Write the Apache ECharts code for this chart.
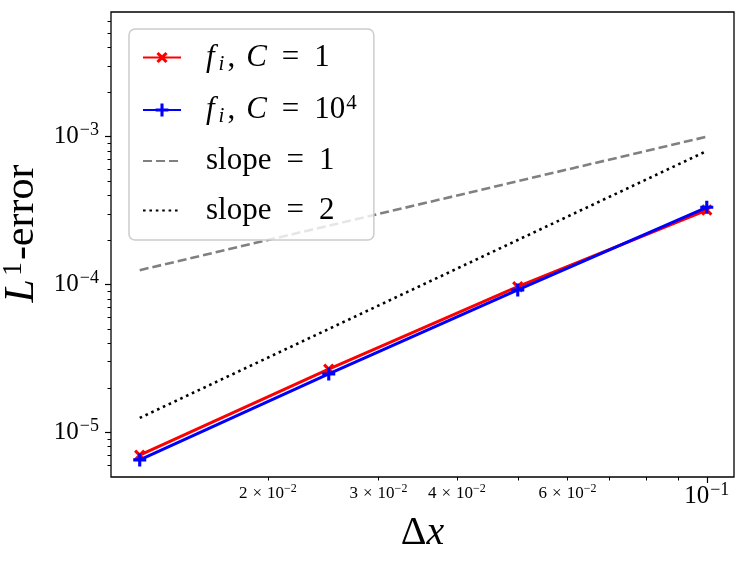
<!DOCTYPE html>
<html>
<head>
<meta charset="utf-8">
<script src="https://cdn.jsdelivr.net/npm/echarts@6/dist/echarts.min.js"></script>
<style>html,body{margin:0;padding:0;background:#fff}#c{width:748px;height:563px}</style>
</head>
<body>
<div id="c"></div>
<script>
// ---- data ----
const dx = [0.0125, 0.025, 0.05, 0.1];
const errC1 = [7.0e-6, 2.67e-5, 9.66e-5, 3.19e-4];
const errC1e4 = [6.5e-6, 2.48e-5, 9.18e-5, 3.33e-4];
const slope1 = [1.25e-4, 2.5e-4, 5e-4, 1e-3];
const slope2 = [1.25e-5, 5e-5, 2e-4, 8e-4];
const seriesNames = ['fC1', 'fC1e4', 'slope1', 'slope2'];
const xMajorTicks = [0.1];
const xMinorTicks = [0.02, 0.03, 0.04, 0.05, 0.06, 0.07, 0.08, 0.09];
const xMinorLabels = [0.02, 0.03, 0.04, 0.06];
const yMajorTicks = [1e-5, 1e-4, 1e-3];
const yMinorTicks = [6e-6, 7e-6, 8e-6, 9e-6,
  2e-5, 3e-5, 4e-5, 5e-5, 6e-5, 7e-5, 8e-5, 9e-5,
  2e-4, 3e-4, 4e-4, 5e-4, 6e-4, 7e-4, 8e-4, 9e-4,
  2e-3, 3e-3, 4e-3, 5e-3, 6e-3];

const FONT = 'Liberation Serif';
const pts = (ys) => dx.map((x, i) => [x, ys[i]]);
const expOf = (v) => Math.round(Math.log10(v));
const mantOf = (v) => Math.round(v / Math.pow(10, Math.floor(Math.log10(v) + 1e-9)));
const sup = (e) => String(e).replace('-', '\u2212');

const majorRich = {
  n: {fontFamily: FONT, fontSize: 25, lineHeight: 30, color: '#000'},
  sup: {fontFamily: FONT, fontSize: 18, lineHeight: 18, verticalAlign: 'top', color: '#000', padding: [0, 0, 0, 1]}
};
const minorRich = {
  n: {fontFamily: FONT, fontSize: 17, lineHeight: 22, color: '#000'},
  op: {fontFamily: FONT, fontSize: 17, lineHeight: 22, color: '#000', padding: [0, 5, 0, 5]},
  sup: {fontFamily: FONT, fontSize: 12, lineHeight: 12, verticalAlign: 'top', color: '#000'}
};
const legendRich = {
  r: {fontFamily: FONT, fontSize: 31, lineHeight: 34, color: '#000'},
  cm: {fontFamily: FONT, fontSize: 31, lineHeight: 34, color: '#000', padding: [0, 11, 0, 0]},
  it: {fontFamily: FONT, fontSize: 31, lineHeight: 34, fontStyle: 'italic', color: '#000'},
  eq: {fontFamily: FONT, fontSize: 31, lineHeight: 34, color: '#000', padding: [0, 15, 0, 15]},
  sub: {fontFamily: FONT, fontSize: 21, lineHeight: 20, verticalAlign: 'bottom', fontStyle: 'italic', color: '#000', padding: [0, 3, 0, 4]},
  sup: {fontFamily: FONT, fontSize: 21, lineHeight: 20, verticalAlign: 'top', color: '#000', padding: [0, 0, 0, 1]}
};
const legendText = {
  fC1: '{it|f}{sub|i}{cm|,}{it|C}{eq|=}{r|1}',
  fC1e4: '{it|f}{sub|i}{cm|,}{it|C}{eq|=}{r|10}{sup|4}',
  slope1: '{r|slope}{eq|=}{r|1}',
  slope2: '{r|slope}{eq|=}{r|2}'
};

const xMin = 0.01125, xMax = 0.1105, yMin = 4.98e-6, yMax = 6.98e-3;
const PLUS = 'path://M3.8,0H6.2V3.8H10V6.2H6.2V10H3.8V6.2H0V3.8H3.8Z';

const chart = echarts.init(document.getElementById('c'), null, {renderer: 'canvas'});
chart.setOption({
  animation: false,
  backgroundColor: '#fff',
  grid: {left: 111, top: 12, right: 14, bottom: 86, show: true, borderColor: '#000', borderWidth: 1.3,
    backgroundColor: 'transparent', containLabel: false, outerBoundsMode: 'none'},
  legend: {
    data: [
      {name: 'fC1'},
      {name: 'fC1e4'},
      {name: 'slope1', itemStyle: {opacity: 0}},
      {name: 'slope2', itemStyle: {opacity: 0}}
    ],
    orient: 'vertical', left: 129, top: 29,
    padding: [13, 17, 14, 13],
    itemGap: 18.5, itemWidth: 38, itemHeight: 16,
    backgroundColor: 'rgba(255,255,255,0.8)',
    borderColor: '#cccccc', borderWidth: 1.5, borderRadius: 6,
    z: 10,
    formatter: (name) => legendText[name],
    textStyle: {rich: legendRich, padding: [0, 0, 0, 20]}
  },
  xAxis: [
    {
      type: 'log', logBase: 10, min: xMin, max: xMax, position: 'bottom',
      axisLine: {show: false},
      axisTick: {show: true, length: 6, lineStyle: {color: '#000', width: 1.2}, customValues: xMajorTicks},
      axisLabel: {show: true, margin: 4, customValues: xMajorTicks, rich: majorRich,
        formatter: (v) => '{n|10}{sup|' + sup(expOf(v)) + '}'},
      splitLine: {show: false}, minorTick: {show: false},
      name: '{d|\u0394}{x|x}', nameLocation: 'middle', nameGap: 34,
      nameTextStyle: {rich: {
        d: {fontFamily: FONT, fontSize: 40, lineHeight: 44, color: '#000'},
        x: {fontFamily: FONT, fontSize: 40, lineHeight: 44, fontStyle: 'italic', color: '#000'}
      }, padding: [0, 0, 0, 0]}
    },
    {
      type: 'log', logBase: 10, min: xMin, max: xMax, position: 'bottom',
      axisLine: {show: false},
      axisTick: {show: true, length: 3.5, lineStyle: {color: '#000', width: 1}, customValues: xMinorTicks},
      axisLabel: {show: true, margin: 6, customValues: xMinorLabels, rich: minorRich,
        formatter: (v) => '{n|' + mantOf(v) + '}{op|\u00d7}{n|10}{sup|' + sup(Math.floor(Math.log10(v) + 1e-9)) + '}'},
      splitLine: {show: false}, minorTick: {show: false}
    }
  ],
  yAxis: [
    {
      type: 'log', logBase: 10, min: yMin, max: yMax, position: 'left',
      axisLine: {show: false},
      axisTick: {show: true, length: 6, lineStyle: {color: '#000', width: 1.2}, customValues: yMajorTicks},
      axisLabel: {show: true, margin: 12, customValues: yMajorTicks, rich: majorRich,
        formatter: (v) => '{n|10}{sup|' + sup(expOf(v)) + '}'},
      splitLine: {show: false}, minorTick: {show: false},
      name: '{it|L}{sup|1}{r|-error}', nameLocation: 'middle', nameRotate: 90, nameGap: 64,
      nameTextStyle: {rich: {
        it: {fontFamily: FONT, fontSize: 42, lineHeight: 44, fontStyle: 'italic', color: '#000'},
        sup: {fontFamily: FONT, fontSize: 28, lineHeight: 26, verticalAlign: 'top', color: '#000', padding: [0, 2, 0, 3]},
        r: {fontFamily: FONT, fontSize: 42, lineHeight: 44, color: '#000'}
      }, padding: [0, 0, 0, 22]}
    },
    {
      type: 'log', logBase: 10, min: yMin, max: yMax, position: 'left',
      axisLine: {show: false},
      axisTick: {show: true, length: 3.5, lineStyle: {color: '#000', width: 1}, customValues: yMinorTicks},
      axisLabel: {show: false},
      splitLine: {show: false}, minorTick: {show: false}
    }
  ],
  series: [
    {
      name: 'fC1', type: 'line', data: pts(errC1), xAxisIndex: 0, yAxisIndex: 0,
      color: '#ff0000', lineStyle: {color: '#ff0000', width: 3},
      symbol: PLUS, symbolRotate: 45, symbolSize: 13, showSymbol: true,
      itemStyle: {color: '#ff0000'}, z: 3
    },
    {
      name: 'fC1e4', type: 'line', data: pts(errC1e4), xAxisIndex: 0, yAxisIndex: 0,
      color: '#0000ff', lineStyle: {color: '#0000ff', width: 3},
      symbol: PLUS, symbolSize: 13, showSymbol: true,
      itemStyle: {color: '#0000ff'}, z: 4
    },
    {
      name: 'slope1', type: 'line', data: pts(slope1), xAxisIndex: 0, yAxisIndex: 0,
      color: '#808080', lineStyle: {color: '#808080', width: 2.6, type: [9, 4]},
      symbol: 'none', z: 2
    },
    {
      name: 'slope2', type: 'line', data: pts(slope2), xAxisIndex: 0, yAxisIndex: 0,
      color: '#000000', lineStyle: {color: '#000000', width: 2.6, type: [2.6, 3.8]},
      symbol: 'none', z: 2
    }
  ]
});
</script>
</body>
</html>
